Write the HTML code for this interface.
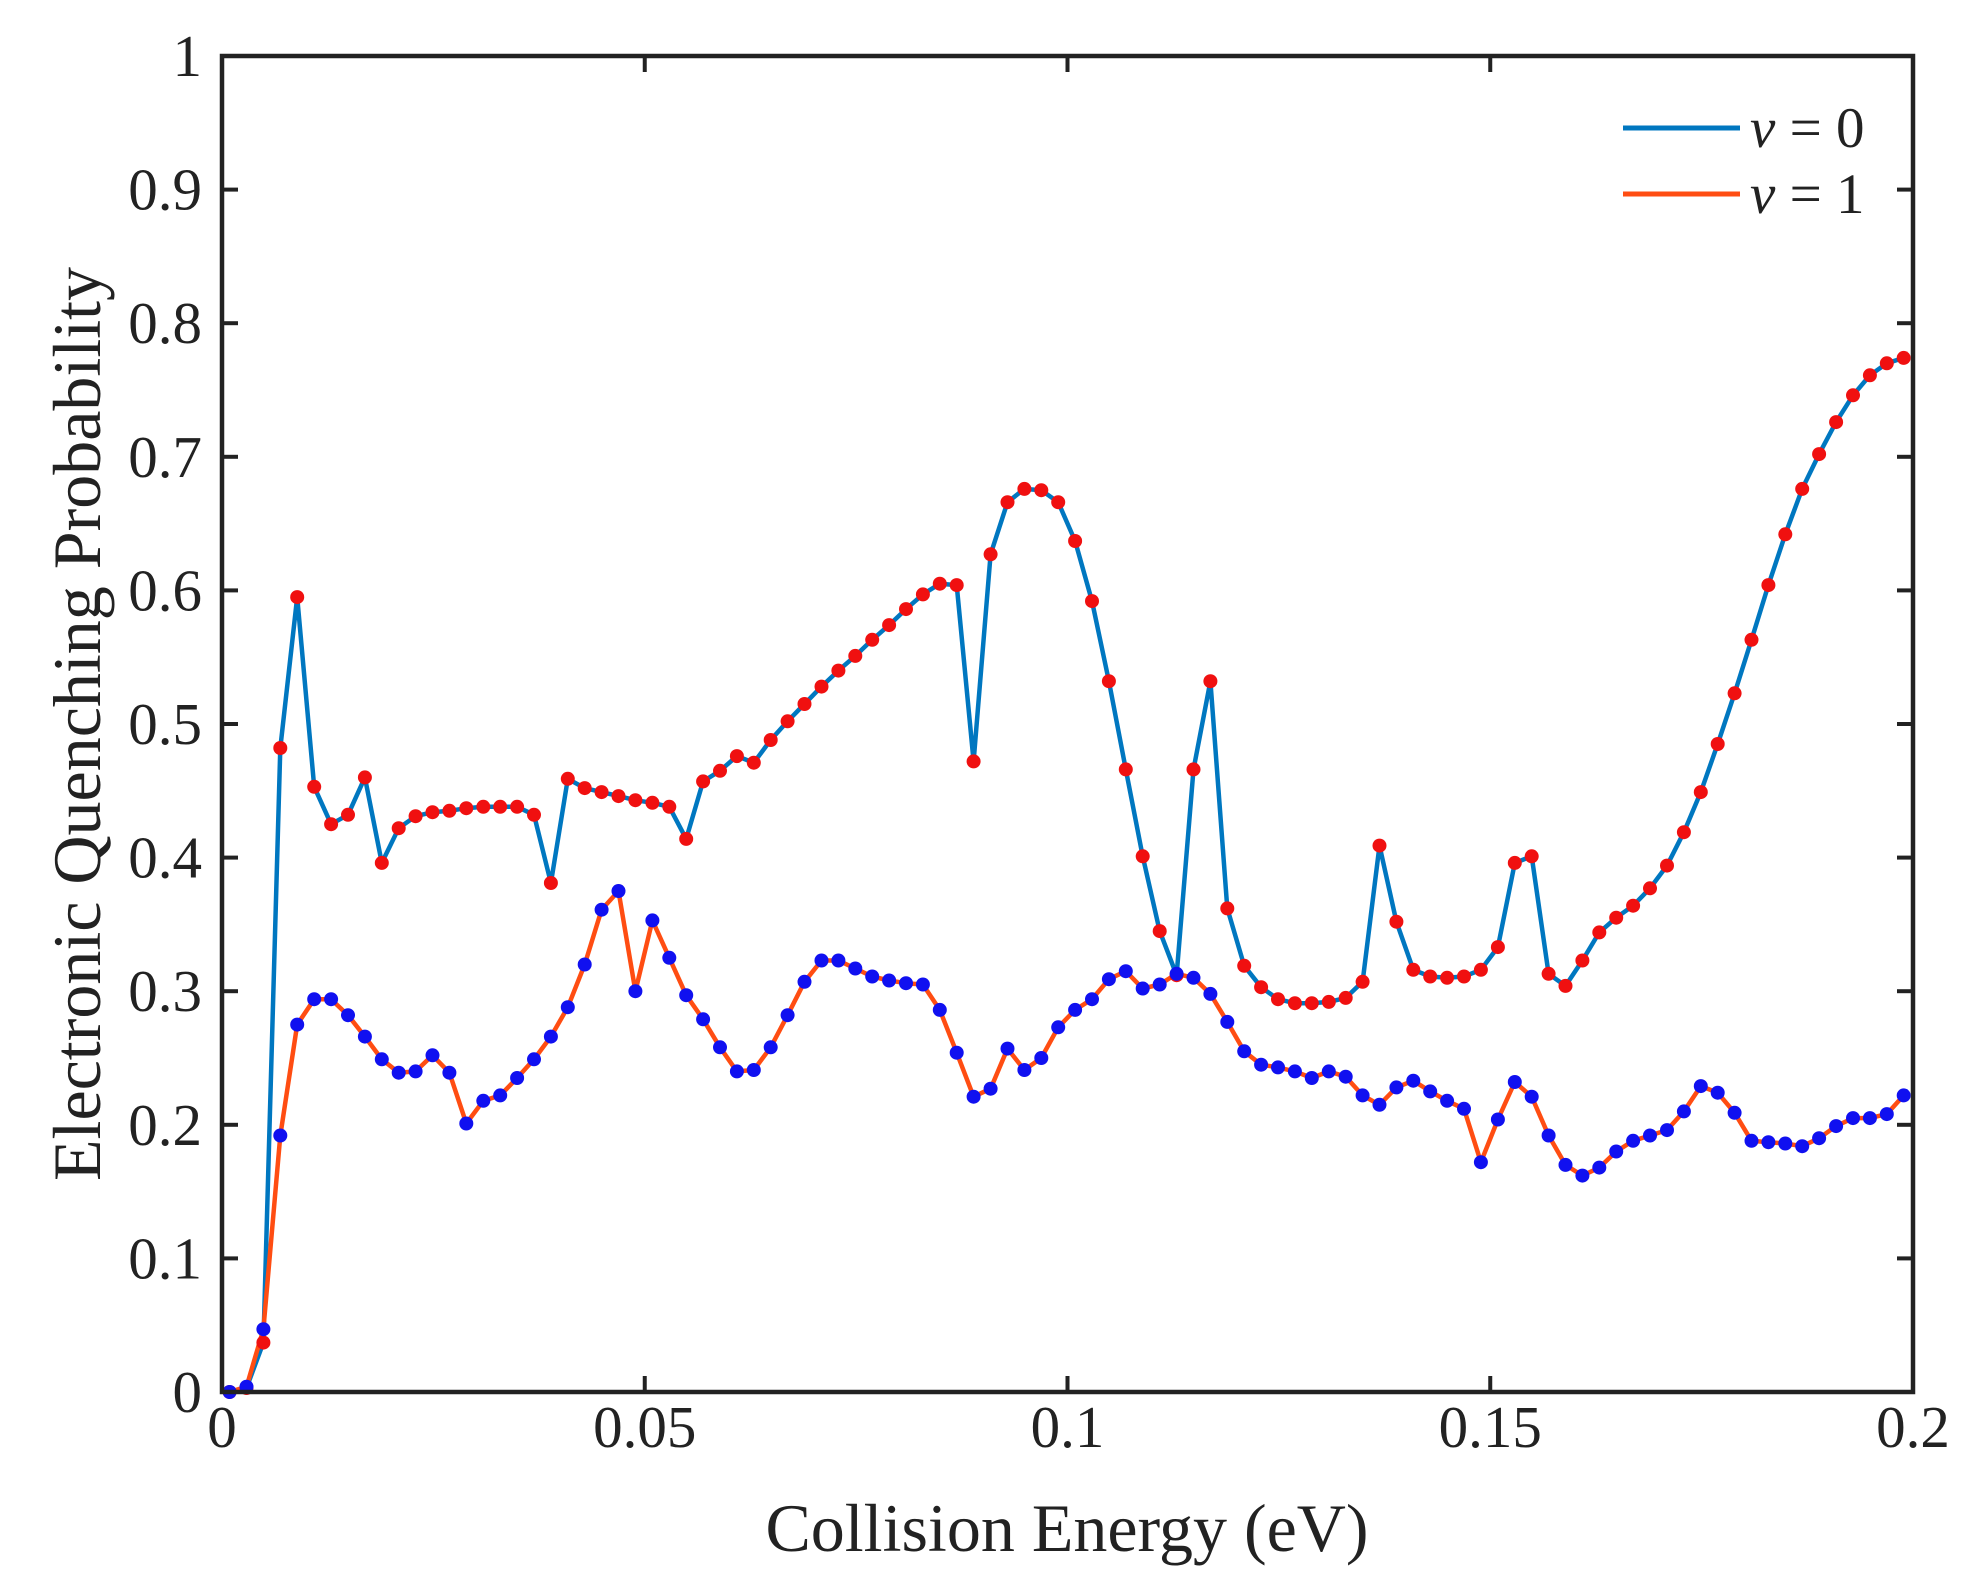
<!DOCTYPE html>
<html><head><meta charset="utf-8"><style>
html,body{margin:0;padding:0;background:#fff;}
svg{display:block;}
text{font-family:"Liberation Serif",serif;fill:#222;}
</style></head><body>
<svg id="s" width="1970" height="1584" viewBox="0 0 1970 1584" xmlns="http://www.w3.org/2000/svg">
<rect width="1970" height="1584" fill="#fff"/>
<g id="g"></g>
<rect x="222" y="56" width="1691" height="1336" fill="none" stroke="#222" stroke-width="4.5"/>
<g font-size="59" text-anchor="end" id="yl"></g>
<g font-size="59" text-anchor="middle" id="xl"></g>
<text x="1067" y="1551" font-size="68" text-anchor="middle">Collision Energy (eV)</text>
<text transform="translate(100,724) rotate(-90)" font-size="68" text-anchor="middle">Electronic Quenching Probability</text>
<line x1="1623" y1="128" x2="1740" y2="128" stroke="#0077C0" stroke-width="5"/>
<line x1="1623" y1="194" x2="1740" y2="194" stroke="#FF4D12" stroke-width="5"/>
<text x="1750" y="147" font-size="57"><tspan font-style="italic">ν</tspan> = 0</text>
<text x="1750" y="213" font-size="57"><tspan font-style="italic">ν</tspan> = 1</text>
</svg>
<script>
var a=[0,0.003,0.037,0.482,0.595,0.453,0.425,0.432,0.460,0.396,0.422,0.431,0.434,0.435,0.437,0.438,0.438,0.438,0.432,0.381,0.459,0.452,0.449,0.446,0.443,0.441,0.438,0.414,0.457,0.465,0.476,0.471,0.488,0.502,0.515,0.528,0.540,0.551,0.563,0.574,0.586,0.597,0.605,0.604,0.472,0.627,0.666,0.676,0.675,0.666,0.637,0.592,0.532,0.466,0.401,0.345,0.312,0.466,0.532,0.362,0.319,0.303,0.294,0.291,0.291,0.292,0.295,0.307,0.409,0.352,0.316,0.311,0.310,0.311,0.316,0.333,0.396,0.401,0.313,0.304,0.323,0.344,0.355,0.364,0.377,0.394,0.419,0.449,0.485,0.523,0.563,0.604,0.642,0.676,0.702,0.726,0.746,0.761,0.770,0.774];
var b=[0,0.004,0.047,0.192,0.275,0.294,0.294,0.282,0.266,0.249,0.239,0.240,0.252,0.239,0.201,0.218,0.222,0.235,0.249,0.266,0.288,0.320,0.361,0.375,0.300,0.353,0.325,0.297,0.279,0.258,0.240,0.241,0.258,0.282,0.307,0.323,0.323,0.317,0.311,0.308,0.306,0.305,0.286,0.254,0.221,0.227,0.257,0.241,0.250,0.273,0.286,0.294,0.309,0.315,0.302,0.305,0.313,0.310,0.298,0.277,0.255,0.245,0.243,0.240,0.235,0.240,0.236,0.222,0.215,0.228,0.233,0.225,0.218,0.212,0.172,0.204,0.232,0.221,0.192,0.170,0.162,0.168,0.180,0.188,0.192,0.196,0.210,0.229,0.224,0.209,0.188,0.187,0.186,0.184,0.190,0.199,0.205,0.205,0.208,0.222];
function X(x){return 222+x/0.2*1691;}function Y(p){return 1392-p*1336;}
var h='';
function ser(d,lc){var pts=d.map(function(p,i){return X(0.0009+0.002*i).toFixed(1)+','+Y(p).toFixed(1);});
h+='<polyline points="'+pts.join(' ')+'" fill="none" stroke="'+lc+'" stroke-width="4.5" stroke-linejoin="round"/>';
return pts;}
var pa=ser(a,'#0077C0'),pb=ser(b,'#FF4D12');
pa.forEach(function(q){var c=q.split(',');h+='<circle cx="'+c[0]+'" cy="'+c[1]+'" r="7" fill="#F01010"/>';});
pb.forEach(function(q){var c=q.split(',');h+='<circle cx="'+c[0]+'" cy="'+c[1]+'" r="7" fill="#1010F0"/>';});
for(var i=0;i<=10;i++){var y=Y(i/10);h+='<line x1="222" y1="'+y+'" x2="238" y2="'+y+'" stroke="#222" stroke-width="4"/><line x1="1897" y1="'+y+'" x2="1913" y2="'+y+'" stroke="#222" stroke-width="4"/>';}
for(var i=0;i<=4;i++){var x=X(i*0.05);h+='<line x1="'+x+'" y1="1392" x2="'+x+'" y2="1376" stroke="#222" stroke-width="4"/><line x1="'+x+'" y1="56" x2="'+x+'" y2="72" stroke="#222" stroke-width="4"/>';}
document.getElementById('g').innerHTML=h;
var yl='';var lab=['0','0.1','0.2','0.3','0.4','0.5','0.6','0.7','0.8','0.9','1'];
for(var i=0;i<=10;i++){yl+='<text x="202" y="'+(Y(i/10)+20)+'">'+lab[i]+'</text>';}
document.getElementById('yl').innerHTML=yl;
var xl='';var xs=['0','0.05','0.1','0.15','0.2'];
for(var i=0;i<=4;i++){xl+='<text x="'+X(i*0.05)+'" y="1447">'+xs[i]+'</text>';}
document.getElementById('xl').innerHTML=xl;
</script>
</body></html>
